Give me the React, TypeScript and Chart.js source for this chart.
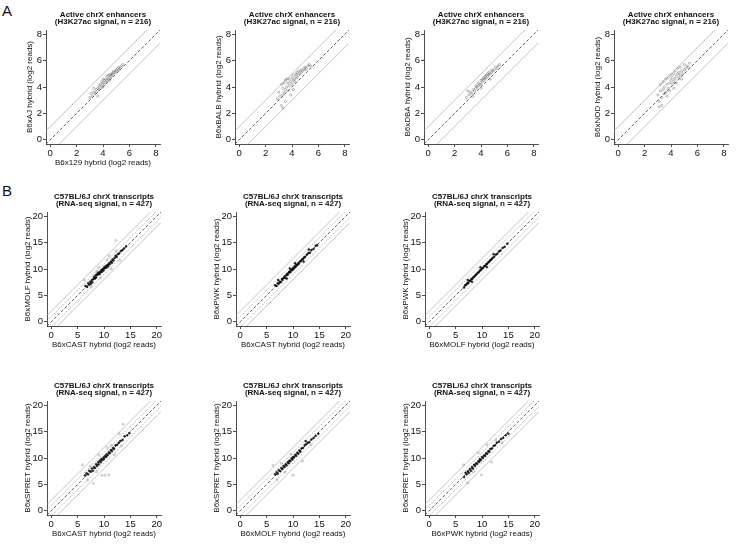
import React, { useEffect, useRef } from "react";
import { Chart, registerables } from "chart.js";

Chart.register(...registerables);

const FONT = '"Liberation Sans", Arial, Helvetica, sans-serif';

// ---------- text ----------
const titleA = ["Active chrX enhancers", "(H3K27ac signal, n = 216)"];
const titleB = ["C57BL/6J chrX transcripts", "(RNA-seq signal, n = 427)"];

// ---------- axes ----------
const ticksA = [0, 2, 4, 6, 8];
const ticksB = [0, 5, 10, 15, 20];
const limA = [-0.32, 8.32];
const limB = [-0.8, 20.8];
const refOffsetsA = [-1, 0, 1];
const refOffsetsB = [-2, -1, 0, 1, 2];

// ---------- panel A data (H3K27ac enhancer signal) ----------
const aAJx = [3.0, 3.1, 3.2, 3.3, 3.3, 3.4, 3.5, 3.5, 3.6, 3.7, 3.7, 3.8, 3.8, 3.9, 3.9, 4.0, 4.0, 4.1, 4.1, 4.2, 4.2, 4.3, 4.3, 4.4, 4.4, 4.5, 4.5, 4.6, 4.6, 4.7, 4.7, 4.8, 4.8, 4.9, 5.0, 5.0, 5.1, 5.2, 5.2, 5.3, 5.4, 5.5, 3.6, 4.0, 4.5];
const aAJy = [3.2, 3.5, 3.3, 3.6, 3.9, 3.5, 3.8, 3.6, 3.9, 4.1, 3.8, 4.2, 3.9, 4.1, 4.4, 4.3, 4.0, 4.5, 4.2, 4.4, 4.6, 4.5, 4.8, 4.6, 4.9, 4.7, 4.9, 4.8, 5.0, 5.0, 4.9, 5.1, 5.2, 5.1, 5.3, 5.2, 5.4, 5.3, 5.5, 5.4, 5.6, 5.7, 3.3, 4.6, 4.5];

const aBALBx = [2.9, 3.0, 3.1, 3.2, 3.3, 3.3, 3.4, 3.4, 3.5, 3.5, 3.6, 3.7, 3.7, 3.8, 3.8, 3.9, 4.0, 4.0, 4.1, 4.1, 4.2, 4.2, 4.3, 4.3, 4.4, 4.4, 4.5, 4.5, 4.6, 4.7, 4.7, 4.8, 4.9, 5.0, 5.0, 5.1, 5.2, 5.3, 5.4, 3.2, 3.5, 3.9, 4.1, 3.6, 3.3];
const aBALBy = [3.1, 3.6, 3.3, 4.2, 3.4, 3.9, 3.6, 4.3, 3.8, 4.5, 4.0, 3.7, 4.3, 4.1, 4.6, 4.4, 4.2, 4.7, 4.5, 4.9, 4.6, 4.4, 4.8, 5.0, 4.7, 5.1, 4.9, 5.2, 5.0, 5.1, 5.3, 5.2, 5.4, 5.3, 5.5, 5.4, 5.6, 5.7, 5.6, 2.6, 2.9, 3.4, 3.8, 4.6, 2.4];

const aDBAx = [2.9, 3.1, 3.2, 3.3, 3.4, 3.5, 3.6, 3.6, 3.7, 3.8, 3.8, 3.9, 4.0, 4.0, 4.1, 4.1, 4.2, 4.2, 4.3, 4.3, 4.4, 4.4, 4.5, 4.5, 4.6, 4.6, 4.7, 4.8, 4.8, 4.9, 5.0, 5.1, 5.2, 5.3, 5.4, 3.4, 4.0, 4.7, 3.0];
const aDBAy = [3.2, 3.4, 3.6, 3.5, 3.8, 3.7, 3.9, 4.1, 4.0, 4.1, 4.3, 4.2, 4.2, 4.5, 4.4, 4.6, 4.5, 4.7, 4.6, 4.8, 4.7, 4.9, 4.8, 5.0, 4.9, 5.1, 5.0, 5.1, 5.3, 5.2, 5.3, 5.5, 5.4, 5.6, 5.7, 3.3, 3.9, 4.6, 3.7];

const aNODx = [3.0, 3.1, 3.2, 3.2, 3.3, 3.4, 3.4, 3.5, 3.5, 3.6, 3.6, 3.7, 3.8, 3.8, 3.9, 3.9, 4.0, 4.0, 4.1, 4.1, 4.2, 4.2, 4.3, 4.3, 4.4, 4.4, 4.5, 4.5, 4.6, 4.6, 4.7, 4.7, 4.8, 4.9, 5.0, 5.0, 5.1, 5.2, 5.3, 5.4, 3.3, 3.7, 4.2, 3.1, 4.8];
const aNODy = [3.4, 2.9, 3.7, 4.2, 3.2, 3.8, 4.4, 3.5, 4.0, 4.6, 3.6, 4.2, 3.9, 4.7, 4.3, 3.7, 4.5, 4.9, 4.2, 4.7, 5.0, 4.4, 4.6, 5.2, 4.8, 4.3, 5.0, 5.4, 4.7, 5.1, 4.9, 5.5, 5.2, 5.0, 5.3, 5.7, 5.4, 5.6, 5.5, 5.8, 2.6, 3.3, 3.9, 2.5, 4.6];

// ---------- panel B data (RNA-seq transcript signal) ----------
const bMOLFvCASTx = [6.5, 6.8, 7.0, 7.2, 7.4, 7.5, 7.7, 7.8, 8.0, 8.1, 8.3, 8.4, 8.5, 8.7, 8.8, 9.0, 9.1, 9.2, 9.4, 9.5, 9.6, 9.8, 9.9, 10.0, 10.1, 10.3, 10.4, 10.5, 10.7, 10.8, 11.0, 11.1, 11.3, 11.5, 11.6, 11.8, 12.0, 12.2, 12.4, 12.6, 12.9, 13.2, 13.5, 13.8, 14.2, 6.3, 7.6, 8.6, 9.3, 10.6, 11.4, 12.3, 13.0, 12.2, 9.0, 11.0];
const bMOLFvCASTy = [6.8, 6.6, 7.3, 7.0, 7.6, 7.2, 7.9, 7.5, 8.1, 8.5, 8.2, 8.8, 8.4, 8.9, 9.2, 9.0, 9.4, 9.1, 9.5, 9.8, 9.5, 10.0, 9.7, 10.1, 10.4, 10.2, 10.6, 10.3, 10.8, 10.5, 11.1, 10.9, 11.4, 11.2, 11.8, 11.6, 12.1, 12.5, 12.3, 12.8, 13.0, 13.4, 13.6, 13.9, 14.3, 7.9, 6.6, 9.6, 8.3, 11.8, 10.0, 13.4, 11.6, 15.4, 10.3, 12.5];

const bPWKvCASTx = [6.6, 6.9, 7.1, 7.3, 7.5, 7.7, 7.9, 8.0, 8.2, 8.4, 8.5, 8.7, 8.9, 9.0, 9.2, 9.3, 9.5, 9.6, 9.8, 9.9, 10.0, 10.2, 10.3, 10.5, 10.6, 10.8, 11.0, 11.1, 11.3, 11.5, 11.7, 11.9, 12.1, 12.3, 12.6, 12.9, 13.2, 13.5, 13.9, 14.3, 14.6, 7.2, 8.8, 10.4, 12.0, 9.4, 13.0];
const bPWKvCASTy = [6.9, 6.8, 7.3, 7.2, 7.6, 7.5, 8.1, 7.9, 8.3, 8.6, 8.3, 8.8, 9.1, 8.9, 9.3, 9.5, 9.4, 9.7, 9.9, 9.8, 10.2, 10.1, 10.5, 10.4, 10.8, 10.7, 11.1, 11.0, 11.4, 11.5, 11.8, 11.9, 12.2, 12.3, 12.7, 13.0, 13.1, 13.6, 13.8, 14.4, 14.5, 7.9, 8.2, 11.1, 11.4, 10.1, 13.7];

const bPWKvMOLFx = [6.6, 6.8, 7.0, 7.2, 7.4, 7.6, 7.8, 8.0, 8.2, 8.4, 8.6, 8.8, 9.0, 9.2, 9.4, 9.6, 9.8, 10.0, 10.2, 10.4, 10.6, 10.8, 11.0, 11.2, 11.4, 11.6, 11.8, 12.0, 12.3, 12.6, 12.9, 13.2, 13.5, 13.9, 14.3, 14.8, 7.3, 8.1, 9.7, 10.9, 12.2];
const bPWKvMOLFy = [6.5, 6.9, 7.0, 7.3, 7.3, 7.7, 7.8, 8.1, 8.2, 8.5, 8.6, 8.9, 9.0, 9.3, 9.4, 9.7, 9.8, 10.1, 10.2, 10.5, 10.6, 10.9, 11.0, 11.3, 11.4, 11.7, 11.8, 12.1, 12.3, 12.7, 12.9, 13.3, 13.5, 14.0, 14.2, 14.8, 7.9, 7.6, 10.3, 10.4, 12.8];

const bSPRETvCASTx = [6.4, 6.7, 7.0, 7.2, 7.5, 7.7, 7.9, 8.1, 8.3, 8.5, 8.7, 8.9, 9.0, 9.2, 9.4, 9.5, 9.7, 9.9, 10.0, 10.2, 10.4, 10.5, 10.7, 10.9, 11.1, 11.3, 11.5, 11.7, 11.9, 12.2, 12.5, 12.8, 13.1, 13.5, 13.9, 14.4, 14.8, 5.9, 9.6, 10.2, 10.9, 8.0, 13.6, 7.4, 8.6, 11.4, 12.0, 9.0, 12.9, 6.9, 10.6, 13.3];
const bSPRETvCASTy = [6.7, 7.1, 6.9, 7.6, 7.4, 8.0, 7.6, 8.3, 8.1, 8.8, 8.5, 9.2, 8.8, 9.5, 9.2, 9.8, 9.6, 10.1, 9.8, 10.4, 10.2, 10.7, 10.5, 11.1, 10.9, 11.5, 11.3, 11.9, 11.7, 12.4, 12.5, 12.9, 13.2, 13.4, 14.1, 14.3, 14.7, 8.7, 6.7, 6.7, 6.8, 5.2, 16.4, 8.5, 7.4, 12.4, 10.6, 10.6, 14.6, 5.8, 12.0, 12.3];

const bSPRETvMOLFx = [6.6, 6.9, 7.1, 7.3, 7.6, 7.8, 8.0, 8.2, 8.4, 8.6, 8.8, 9.0, 9.2, 9.3, 9.5, 9.7, 9.9, 10.0, 10.2, 10.4, 10.6, 10.8, 11.0, 11.2, 11.4, 11.6, 11.9, 12.2, 12.5, 12.8, 13.1, 13.5, 13.9, 14.3, 14.8, 6.2, 10.0, 11.8, 7.0, 8.5, 12.4, 9.6, 13.4, 7.8];
const bSPRETvMOLFy = [6.9, 7.3, 7.0, 7.7, 7.5, 8.1, 7.9, 8.5, 8.3, 8.8, 8.6, 9.2, 9.0, 9.5, 9.4, 9.9, 9.7, 10.2, 10.1, 10.6, 10.4, 11.0, 10.8, 11.4, 11.2, 11.8, 11.9, 12.4, 12.6, 12.9, 13.0, 13.5, 13.8, 14.2, 14.6, 8.6, 6.7, 9.4, 5.9, 7.3, 13.2, 10.7, 12.5, 9.0];

const bSPRETvPWKx = [6.6, 6.9, 7.1, 7.3, 7.5, 7.7, 7.9, 8.1, 8.3, 8.5, 8.7, 8.9, 9.1, 9.3, 9.5, 9.6, 9.8, 10.0, 10.2, 10.4, 10.6, 10.8, 11.0, 11.2, 11.4, 11.6, 11.9, 12.2, 12.5, 12.8, 13.2, 13.6, 14.0, 14.5, 15.0, 6.5, 9.9, 11.8, 7.3, 8.4, 12.6, 9.3, 10.9, 13.8];
const bSPRETvPWKy = [6.4, 7.2, 6.9, 7.5, 7.2, 7.9, 7.6, 8.3, 8.0, 8.7, 8.5, 9.0, 8.9, 9.4, 9.3, 9.8, 9.6, 10.2, 10.0, 10.5, 10.4, 10.9, 10.8, 11.3, 11.2, 11.7, 11.8, 12.3, 12.4, 12.9, 13.1, 13.6, 13.8, 14.3, 14.6, 8.7, 6.8, 9.2, 5.3, 7.4, 13.4, 11.0, 12.5, 12.9];

// ---------- layout constants ----------
const PLOT = 114; // plot area side
const YW = 28; // space reserved left of plot (y axis)
const TH = 21; // title block height
const XH = 24; // x axis block height
const RP = 8; // right padding

type Kind = "A" | "B";
type Spec = {
  kind: Kind;
  pl: number;
  pt: number;
  xs: number[];
  ys: number[];
  xLabel: string;
  yLabel: string;
};

const panels: Spec[] = [
  { kind: "A", pl: 46, pt: 30, xs: aAJx, ys: aAJy, xLabel: "B6x129 hybrid (log2 reads)", yLabel: "B6xAJ hybrid (log2 reads)" },
  { kind: "A", pl: 235, pt: 30, xs: aBALBx, ys: aBALBy, xLabel: "", yLabel: "B6xBALB hybrid (log2 reads)" },
  { kind: "A", pl: 424, pt: 30, xs: aDBAx, ys: aDBAy, xLabel: "", yLabel: "B6xDBA hybrid (log2 reads)" },
  { kind: "A", pl: 614, pt: 30, xs: aNODx, ys: aNODy, xLabel: "", yLabel: "B6xNOD hybrid (log2 reads)" },
  { kind: "B", pl: 47, pt: 212, xs: bMOLFvCASTx, ys: bMOLFvCASTy, xLabel: "B6xCAST hybrid (log2 reads)", yLabel: "B6xMOLF hybrid (log2 reads)" },
  { kind: "B", pl: 236, pt: 212, xs: bPWKvCASTx, ys: bPWKvCASTy, xLabel: "B6xCAST hybrid (log2 reads)", yLabel: "B6xPWK hybrid (log2 reads)" },
  { kind: "B", pl: 425, pt: 212, xs: bPWKvMOLFx, ys: bPWKvMOLFy, xLabel: "B6xMOLF hybrid (log2 reads)", yLabel: "B6xPWK hybrid (log2 reads)" },
  { kind: "B", pl: 47, pt: 401, xs: bSPRETvCASTx, ys: bSPRETvCASTy, xLabel: "B6xCAST hybrid (log2 reads)", yLabel: "B6xSPRET hybrid (log2 reads)" },
  { kind: "B", pl: 236, pt: 401, xs: bSPRETvMOLFx, ys: bSPRETvMOLFy, xLabel: "B6xMOLF hybrid (log2 reads)", yLabel: "B6xSPRET hybrid (log2 reads)" },
  { kind: "B", pl: 425, pt: 401, xs: bSPRETvPWKx, ys: bSPRETvPWKy, xLabel: "B6xPWK hybrid (log2 reads)", yLabel: "B6xSPRET hybrid (log2 reads)" },
];

function refStyle(kind: Kind, off: number) {
  if (off === 0) return { color: "#3a3a3a", dash: [3, 2] };
  if (kind === "B" && Math.abs(off) === 1) return { color: "#8a8a8a", dash: [1, 1.5] };
  return { color: "#b4b4b4", dash: [] as number[] };
}

function makeConfig(spec: Spec): any {
  const isA = spec.kind === "A";
  const [lo, hi] = isA ? limA : limB;
  const ticks = isA ? ticksA : ticksB;
  const offsets = isA ? refOffsetsA : refOffsetsB;

  const refSets = offsets.map((off) => {
    const st = refStyle(spec.kind, off);
    return {
      type: "line",
      data: [
        { x: lo, y: lo + off },
        { x: hi, y: hi + off },
      ],
      borderColor: st.color,
      borderDash: st.dash,
      borderWidth: 0.8,
      pointRadius: 0,
      fill: false,
      clip: 0,
      order: 2,
    };
  });

  const pts = spec.xs.map((x, i) => ({ x, y: spec.ys[i] }));
  const pointSet = isA
    ? {
        type: "scatter",
        data: pts,
        pointRadius: 1.1,
        pointBorderWidth: 0.5,
        pointBorderColor: "rgba(80,80,80,0.75)",
        pointBackgroundColor: "rgba(0,0,0,0)",
        clip: 0,
        order: 1,
      }
    : {
        type: "scatter",
        data: pts,
        pointRadius: 1.0,
        pointBorderWidth: 0.5,
        pointBorderColor: (c: any) => {
          const p = c.raw;
          return p && Math.abs(p.y - p.x) > 0.8 ? "rgba(110,110,110,0.8)" : "rgba(0,0,0,0.9)";
        },
        pointBackgroundColor: (c: any) => {
          const p = c.raw;
          return p && Math.abs(p.y - p.x) > 0.8 ? "rgba(0,0,0,0)" : "rgba(0,0,0,0.85)";
        },
        clip: 0,
        order: 1,
      };

  const axisCommon = (labelText: string, isX: boolean) => ({
    type: "linear",
    min: lo,
    max: hi,
    afterBuildTicks: (s: any) => {
      s.ticks = ticks.map((v) => ({ value: v }));
    },
    afterFit: (s: any) => {
      if (isX) s.height = XH;
      else s.width = YW;
    },
    grid: {
      display: true,
      drawOnChartArea: false,
      drawTicks: true,
      tickLength: 3,
      color: "#222",
      lineWidth: 0.8,
    },
    border: { display: true, color: "#222", width: 0.8 },
    ticks: {
      font: { family: FONT, size: 9.5 },
      color: "#111",
      padding: 1,
      maxRotation: 0,
      autoSkip: false,
    },
    title: {
      display: labelText !== "",
      text: labelText,
      font: { family: FONT, size: 8 },
      color: "#111",
      padding: isX ? { top: 0, bottom: 0 } : { top: isA ? 6.5 : 3.5, bottom: 0 },
    },
  });

  return {
    type: "scatter",
    data: { datasets: [...refSets, pointSet] },
    options: {
      responsive: false,
      animation: false,
      devicePixelRatio: 1,
      layout: { padding: { left: 0, top: 0, right: RP, bottom: 0 } },
      plugins: {
        legend: { display: false },
        tooltip: { enabled: false },
        title: {
          display: true,
          text: isA ? titleA : titleB,
          fullSize: false,
          font: { family: FONT, size: 8, weight: "bold", lineHeight: 0.9375 },
          color: "#111",
          padding: { top: 2, bottom: 4 },
        },
      },
      scales: {
        x: { ...axisCommon(spec.xLabel, true), position: "bottom" },
        y: { ...axisCommon(spec.yLabel, false), position: "left" },
      },
    },
  };
}

function Panel({ spec }: { spec: Spec }) {
  const ref = useRef<HTMLCanvasElement>(null);
  const W = YW + PLOT + RP;
  const H = TH + PLOT + XH;
  useEffect(() => {
    if (!ref.current) return;
    const chart = new Chart(ref.current, makeConfig(spec));
    return () => chart.destroy();
  }, [spec]);
  return (
    <canvas
      ref={ref}
      width={W}
      height={H}
      style={{ position: "absolute", left: spec.pl - YW, top: spec.pt - TH, width: W, height: H }}
    />
  );
}

const letterStyle: React.CSSProperties = {
  position: "absolute",
  fontFamily: FONT,
  fontSize: 15,
  lineHeight: "15px",
  color: "#111",
};

export default function App() {
  return (
    <div style={{ position: "absolute", left: 0, top: 0, width: 741, height: 551, background: "#fff", overflow: "hidden" }}>
      <div style={{ ...letterStyle, left: 2, top: 3 }}>A</div>
      <div style={{ ...letterStyle, left: 2, top: 183 }}>B</div>
      {panels.map((p, i) => (
        <Panel key={i} spec={p} />
      ))}
    </div>
  );
}
